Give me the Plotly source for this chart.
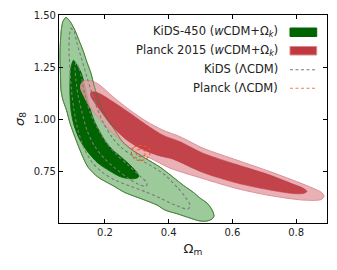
import plotly.graph_objects as go

# ---- contour vertices (Omega_m, sigma_8) ----
kids_2s_om = [0.0776, 0.0901, 0.1058, 0.1184, 0.1309, 0.1435, 0.1560, 0.1655, 0.1749, 0.1843,
              0.1969, 0.2094, 0.2251, 0.2408, 0.2565, 0.2785, 0.3005, 0.3256, 0.3727, 0.4135,
              0.4449, 0.4763, 0.4983, 0.5203, 0.5328, 0.5391, 0.5422, 0.5359, 0.5203, 0.4983,
              0.4669, 0.4292, 0.3884, 0.3633, 0.3162, 0.2628, 0.2220, 0.1780, 0.1466, 0.1215,
              0.1058, 0.0901, 0.0791, 0.0681, 0.0619, 0.0603, 0.0587, 0.0603, 0.0634, 0.0681]
kids_2s_s8 = [1.4891, 1.4700, 1.4270, 1.3792, 1.3315, 1.2741, 1.2216, 1.1642, 1.1165, 1.0735,
              1.0352, 0.9970, 0.9636, 0.9253, 0.8919, 0.8632, 0.8393, 0.8155, 0.7725, 0.7247,
              0.6865, 0.6530, 0.6243, 0.6005, 0.5766, 0.5575, 0.5383, 0.5240, 0.5145, 0.5145,
              0.5288, 0.5479, 0.5670, 0.5909, 0.6196, 0.6506, 0.6865, 0.7247, 0.7725, 0.8537,
              0.9158, 0.9827, 1.0448, 1.0926, 1.1403, 1.2120, 1.3076, 1.3792, 1.4366, 1.4700]

kids_1s_om = [0.1011, 0.1121, 0.1246, 0.1341, 0.1435, 0.1529, 0.1655, 0.1843, 0.2031, 0.2251,
              0.2471, 0.2722, 0.2911, 0.3036, 0.3052, 0.2942, 0.2722, 0.2471, 0.2157, 0.1780,
              0.1466, 0.1215, 0.1027, 0.0932, 0.0901, 0.0901, 0.0932]
kids_1s_s8 = [1.2837, 1.2598, 1.2263, 1.1786, 1.1165, 1.0543, 0.9970, 0.9397, 0.8919, 0.8537,
              0.8250, 0.7916, 0.7629, 0.7390, 0.7247, 0.7175, 0.7175, 0.7271, 0.7533, 0.7916,
              0.8441, 0.9015, 0.9731, 1.0448, 1.1165, 1.1881, 1.2502]

planck_2s_om = [0.1246, 0.1341, 0.1466, 0.1655, 0.1843, 0.2251, 0.2785, 0.3319, 0.3821, 0.4355,
                0.5077, 0.6145, 0.7181, 0.8217, 0.8593, 0.8782, 0.8876, 0.8782, 0.8217, 0.7181,
                0.6145, 0.5077, 0.4041, 0.3413, 0.3036, 0.2785, 0.2377, 0.1937, 0.1529, 0.1309,
                0.1231]
planck_2s_s8 = [1.1690, 1.1857, 1.1881, 1.1810, 1.1642, 1.1093, 1.0448, 0.9898, 0.9492, 0.9182,
                0.8632, 0.8059, 0.7510, 0.6912, 0.6673, 0.6530, 0.6339, 0.6172, 0.6148, 0.6363,
                0.6697, 0.7175, 0.7677, 0.8155, 0.8370, 0.8608, 0.9158, 0.9827, 1.0591, 1.1212,
                1.1499]

planck_1s_om = [0.1560, 0.1655, 0.1843, 0.2251, 0.2785, 0.3319, 0.3821, 0.4355, 0.5077, 0.6145,
                0.7181, 0.7903, 0.8217, 0.8342, 0.8217, 0.7903, 0.7181, 0.6145, 0.5077, 0.4135,
                0.3633, 0.3099, 0.2691, 0.2251, 0.1843, 0.1623, 0.1545]
planck_1s_s8 = [1.1308, 1.1332, 1.1236, 1.0854, 1.0305, 0.9731, 0.9253, 0.8943, 0.8393, 0.7844,
                0.7342, 0.6912, 0.6721, 0.6554, 0.6458, 0.6458, 0.6626, 0.6960, 0.7462, 0.8107,
                0.8298, 0.8632, 0.9015, 0.9636, 1.0448, 1.0926, 1.1165]

kids_lcdm_2s_om = [0.0932, 0.1027, 0.1121, 0.1278, 0.1435, 0.1560, 0.1717, 0.1937, 0.2220, 0.2534,
                   0.2942, 0.3413, 0.3884, 0.4292, 0.4544, 0.4669, 0.4606, 0.4198, 0.3727, 0.3256,
                   0.2785, 0.2314, 0.1906, 0.1592, 0.1341, 0.1152, 0.1027, 0.0948, 0.0901, 0.0870,
                   0.0885]
kids_lcdm_2s_s8 = [1.4366, 1.4222, 1.3649, 1.2837, 1.2025, 1.1403, 1.0687, 0.9875, 0.9158, 0.8632,
                   0.8202, 0.7820, 0.7342, 0.6721, 0.6243, 0.5909, 0.5718, 0.5909, 0.6243, 0.6554,
                   0.6817, 0.7103, 0.7486, 0.7963, 0.8632, 0.9492, 1.0448, 1.1403, 1.2359, 1.3315,
                   1.4031]

kids_lcdm_1s_om = [0.1090, 0.1184, 0.1278, 0.1372, 0.1529, 0.1749, 0.2031, 0.2345, 0.2722, 0.3099,
                   0.3319, 0.3287, 0.3099, 0.2722, 0.2314, 0.1969, 0.1655, 0.1435, 0.1278, 0.1152,
                   0.1090, 0.1058]
kids_lcdm_1s_s8 = [1.2741, 1.2455, 1.1881, 1.1165, 1.0352, 0.9636, 0.8919, 0.8346, 0.7820, 0.7295,
                   0.6960, 0.6817, 0.6865, 0.7199, 0.7677, 0.8155, 0.8776, 0.9492, 1.0352, 1.1165,
                   1.1881, 1.2455]

planck_lcdm_2s_om = [0.2832, 0.2911, 0.3068, 0.3256, 0.3397, 0.3413, 0.3319, 0.3130, 0.2942, 0.2848]
planck_lcdm_2s_s8 = [0.8537, 0.8680, 0.8752, 0.8728, 0.8585, 0.8370, 0.8155, 0.8035, 0.8107, 0.8298]

planck_lcdm_1s_om = [0.2973, 0.3036, 0.3162, 0.3256, 0.3240, 0.3130, 0.3020]
planck_lcdm_1s_s8 = [0.8441, 0.8561, 0.8585, 0.8465, 0.8298, 0.8226, 0.8274]

x_ticks = [0.2, 0.4, 0.6, 0.8]
y_ticks = [0.75, 1.00, 1.25, 1.50]

legend_labels = ["KiDS-450 (<i>w</i>CDM+Ω<sub><i>k</i></sub>)",
                 "Planck 2015 (<i>w</i>CDM+Ω<sub><i>k</i></sub>)",
                 "KiDS (ΛCDM)",
                 "Planck (ΛCDM)"]

FONT = "DejaVu Sans"


def closed(a):
    return list(a) + [a[0]]


fig = go.Figure()

# KiDS-450 wCDM+Omega_k
fig.add_trace(go.Scatter(x=closed(kids_2s_om), y=closed(kids_2s_s8), mode="lines",
                         fill="toself", fillcolor="#9dca9b",
                         line=dict(color="#5b9d57", width=1, shape="spline", smoothing=0.8),
                         showlegend=False, hoverinfo="skip"))
fig.add_trace(go.Scatter(x=closed(kids_1s_om), y=closed(kids_1s_s8), mode="lines",
                         fill="toself", fillcolor="#006400",
                         line=dict(color="#006400", width=0.8, shape="spline", smoothing=0.8),
                         showlegend=False, hoverinfo="skip"))

# Planck 2015 wCDM+Omega_k
fig.add_trace(go.Scatter(x=closed(planck_2s_om), y=closed(planck_2s_s8), mode="lines",
                         fill="toself", fillcolor="rgba(228,160,166,0.82)",
                         line=dict(color="rgba(218,135,142,0.9)", width=1, shape="spline", smoothing=0.8),
                         showlegend=False, hoverinfo="skip"))
fig.add_trace(go.Scatter(x=closed(planck_1s_om), y=closed(planck_1s_s8), mode="lines",
                         fill="toself", fillcolor="rgba(190,58,64,0.92)",
                         line=dict(color="rgba(190,58,64,0.9)", width=0.6, shape="spline", smoothing=0.8),
                         showlegend=False, hoverinfo="skip"))

# KiDS outer edge visible on top
fig.add_trace(go.Scatter(x=closed(kids_2s_om), y=closed(kids_2s_s8), mode="lines",
                         line=dict(color="rgba(70,120,50,0.8)", width=0.9, shape="spline", smoothing=0.8),
                         showlegend=False, hoverinfo="skip"))

# KiDS LCDM dashed
for xs, ys in [(kids_lcdm_2s_om, kids_lcdm_2s_s8), (kids_lcdm_1s_om, kids_lcdm_1s_s8)]:
    fig.add_trace(go.Scatter(x=closed(xs), y=closed(ys), mode="lines",
                             line=dict(color="#7a7a7a", width=1.1, dash="3px,2.5px",
                                       shape="spline", smoothing=0.8),
                             showlegend=False, hoverinfo="skip"))

# Planck LCDM dashed
for xs, ys in [(planck_lcdm_2s_om, planck_lcdm_2s_s8), (planck_lcdm_1s_om, planck_lcdm_1s_s8)]:
    fig.add_trace(go.Scatter(x=closed(xs), y=closed(ys), mode="lines",
                             line=dict(color="#f0552a", width=1.1, dash="3px,2px",
                                       shape="spline", smoothing=1.0),
                             showlegend=False, hoverinfo="skip"))

# ---- manual legend (markers after text, as in the reference) ----
row_y = [0.9197, 0.8317, 0.7389, 0.6476]
for lab, yy in zip(legend_labels, row_y):
    fig.add_annotation(x=0.8246, y=yy, xref="paper", yref="paper", text=lab,
                       showarrow=False, xanchor="right", yanchor="middle",
                       font=dict(family=FONT, size=11.5, color="#222"))
fig.add_shape(type="rect", xref="paper", yref="paper", x0=0.8619, x1=0.9616,
              y0=0.8966, y1=0.9375, fillcolor="#006400", line=dict(color="#006400", width=1))
fig.add_shape(type="rect", xref="paper", yref="paper", x0=0.8619, x1=0.9616,
              y0=0.8077, y1=0.8486, fillcolor="#c0393e", line=dict(color="#d98a90", width=1))
fig.add_shape(type="line", xref="paper", yref="paper", x0=0.8619, x1=0.959,
              y0=0.7370, y1=0.7370, line=dict(color="#7a7a7a", width=1.1, dash="3px,2.5px"))
fig.add_shape(type="line", xref="paper", yref="paper", x0=0.8619, x1=0.959,
              y0=0.6476, y1=0.6476, line=dict(color="#f47a55", width=1.1, dash="3px,2.5px"))

axis_common = dict(showgrid=False, zeroline=False, showline=True, linecolor="black",
                   linewidth=1.2, mirror="ticks", ticks="inside", ticklen=4,
                   tickwidth=1, tickcolor="black",
                   tickfont=dict(family=FONT, size=10, color="#222"))

fig.update_xaxes(range=[0.0556, 0.897], tickvals=x_ticks,
                 ticktext=[f"{v:.1f}" for v in x_ticks],
                 title=dict(text="Ω<sub>m</sub>", font=dict(family=FONT, size=13, color="#222"),
                            standoff=6),
                 **axis_common)
fig.update_yaxes(range=[0.505, 1.5005], tickvals=y_ticks,
                 ticktext=[f"{v:.2f}" for v in y_ticks],
                 title=dict(text="<i>σ</i><sub>8</sub>", font=dict(family=FONT, size=13, color="#222"),
                            standoff=6),
                 **axis_common)

fig.update_layout(width=337, height=270, margin=dict(l=59, r=10, t=15, b=47),
                  plot_bgcolor="white", paper_bgcolor="white",
                  font=dict(family=FONT, color="#222"))

fig.write_html("out.html", config={"displayModeBar": False},
               post_script="document.body.style.margin='0';document.body.style.padding='0';")
